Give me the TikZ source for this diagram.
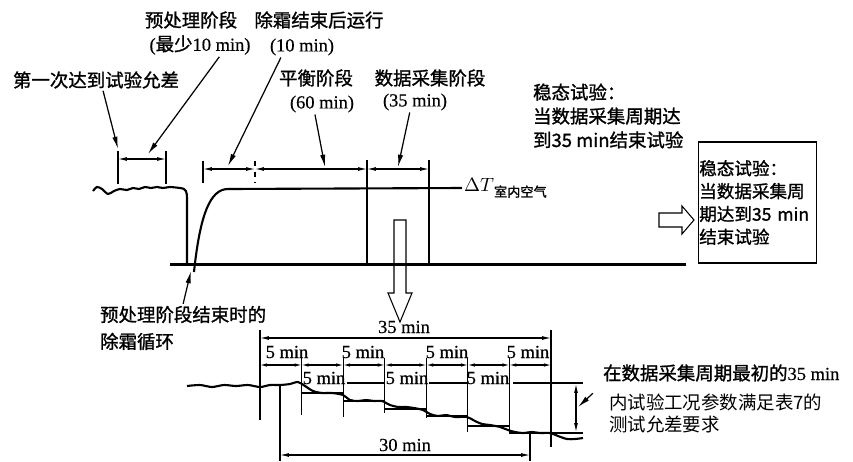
\documentclass[tikz,border=0pt]{standalone}
\usepackage{fontspec}
\setmainfont{Liberation Serif}[FakeBold=0.5]
\newfontfamily\cjk[FakeBold=1.2]{Noto Sans CJK SC}
\newfontfamily\cjklight{Noto Sans CJK SC}
\usepackage{tikz}
\usetikzlibrary{arrows.meta,calc}
\newcommand{\zh}[1]{{\cjk #1}}

\begin{document}
\begin{tikzpicture}[x=0.02cm, y=-0.02cm,
  every node/.style={font=\fontsize{10.5}{13.6}\selectfont, inner sep=1pt},
  lbl/.style={align=left},
  thinline/.style={line width=0.6pt},
  dim/.style={line width=0.6pt, {Latex[length=5pt,width=2.2pt]}-{Latex[length=5pt,width=2.2pt]}},
  ptr/.style={line width=0.7pt, -{Latex[length=7pt,width=3pt]}},
  curve/.style={line width=1.2pt, line join=round},
  baseln/.style={line width=1.7pt}
]
  \useasboundingbox (0,0) rectangle (853,461);

  % labels of the upper chart
  \node (first)   at (96,80)  {\zh{第一次达到试验允差}};
  \node (pre)     at (191,20) {\zh{预处理阶段}};
  \node (premin)  at (200,45) {(\zh{最少}10 min)};
  \node (defr)    at (319,20) {\zh{除霜结束后运行}};
  \node (defrmin) at (302,47) {(10 min)};
  \node (bal)     at (316,78) {\zh{平衡阶段}};
  \node (balmin)  at (322,104) {(60 min)};
  \node (dat)     at (430,78) {\zh{数据采集阶段}};
  \node (datmin)  at (415,102) {(35 min)};
  \node[lbl, anchor=west] (steady) at (531,116)
    {\zh{稳态试验：}\\\zh{当数据采集周期达}\\\zh{到35 min结束试验}};
  \node[draw, thinline, lbl, text width=2.33cm, minimum height=2.42cm, inner sep=0.6pt,
    font=\fontsize{10}{13}\selectfont] (box) at (757.5,202.5)
    {\zh{稳态试验：}\\\zh{当数据采集周}\\\mbox{\zh{期达到35 min}}\\\zh{结束试验}};
  \node[anchor=west] (dT) at (462,188) {$\Delta T$\raisebox{-3pt}{\fontsize{7.5}{8}\selectfont\zh{室内空气}}};

  % upper chart
  \draw[baseln] (170,264) -- (686,264);
  \draw[curve] plot[smooth] coordinates {(93,191) (97,187) (102,189) (108,194) (114,191) (120,189)
    (127,190) (133,188) (139,189) (145,187) (151,188) (157,187) (163,188) (170,187) (180,188)}
    .. controls (186,188) and (187,192) .. (187,198) -- (187,264);
  \draw[curve] (194,272) .. controls (200,215) and (210,189) .. (228,189) -- (dT.west);
  \draw[line width=0.9pt] (367,160) -- (367,264);
  \draw[line width=0.9pt] (429,160) -- (429,264);
  \draw[thinline] (394,220) -- (406,220) -- (406,293) -- (412,293) -- (400,322) -- (388,293) -- (394,293) -- cycle;
  \draw[thinline] (659,213) -- (682,213) -- (682,206) -- (694,220) -- (682,234) -- (682,227) -- (659,227) -- cycle;

  % dimension lines
  \draw[thinline] (118,151) -- (118,184);
  \draw[thinline] (166,151) -- (166,184);
  \draw[dim] (118,159) -- (166,159);
  \draw[thinline] (203,161) -- (203,183);
  \draw[thinline, dashed] (255,161) -- (255,183);
  \draw[dim] (203,169) -- (255,169);
  \draw[dim] (255,169) -- (367,169);
  \draw[dim] (367,169) -- (429,169);

  % pointers
  \coordinate (p1) at (118,149);
  \coordinate (p2) at (148,154);
  \coordinate (p3) at (228,166);
  \coordinate (p4) at (325,167);
  \coordinate (p5) at (398,167);
  \draw[ptr] ([xshift=4pt]first.south) -- (p1);
  \draw[ptr] ([xshift=11pt]premin.south) -- (p2);
  \draw[ptr] ([xshift=-12pt]defrmin.south) -- (p3);
  \draw[ptr] ([xshift=-4pt]balmin.south) -- (p4);
  \draw[ptr] ([xshift=-3pt]datmin.south) -- (p5);

  % lower chart
  \node[lbl, anchor=west, font=\fontsize{10.5}{15.3}\selectfont] (defcyc) at (98,328)
    {\zh{预处理阶段结束时的}\\\zh{除霜循环}};
  \coordinate (p6) at (191,271);
  \draw[ptr] (defcyc.north) -- (p6);

  \node (tot) at (404,327) {35 min};
  \draw[thinline] (260,330) -- (260,420);
  \draw[thinline] (551,330) -- (551,447);
  \draw[dim] (260,338) -- (551,338);

  \node (m1) at (287,352) {5 min};
  \node (m3) at (363,352) {5 min};
  \node (m5) at (447,352) {5 min};
  \node (m7) at (528,352) {5 min};
  \node (m2) at (324,378) {5 min};
  \node (m4) at (407,378) {5 min};
  \node (m6) at (488,378) {5 min};

  \draw[dim, {Latex[length=4pt,width=2pt]}-{Latex[length=4pt,width=2pt]}] (260,365) -- (301.6,365);
  \draw[dim, {Latex[length=4pt,width=2pt]}-{Latex[length=4pt,width=2pt]}] (301.6,365) -- (343.1,365);
  \draw[dim, {Latex[length=4pt,width=2pt]}-{Latex[length=4pt,width=2pt]}] (343.1,365) -- (384.7,365);
  \draw[dim, {Latex[length=4pt,width=2pt]}-{Latex[length=4pt,width=2pt]}] (384.7,365) -- (426.3,365);
  \draw[dim, {Latex[length=4pt,width=2pt]}-{Latex[length=4pt,width=2pt]}] (426.3,365) -- (467.9,365);
  \draw[dim, {Latex[length=4pt,width=2pt]}-{Latex[length=4pt,width=2pt]}] (467.9,365) -- (509.4,365);
  \draw[dim, {Latex[length=4pt,width=2pt]}-{Latex[length=4pt,width=2pt]}] (509.4,365) -- (551,365);

  \draw[thinline] (301.6,358) -- (301.6,415);
  \draw[thinline] (343.1,358) -- (343.1,417);
  \draw[thinline] (384.7,358) -- (384.7,413);
  \draw[thinline] (426.3,358) -- (426.3,418);
  \draw[thinline] (467.9,358) -- (467.9,432);
  \draw[thinline] (509.4,358) -- (509.4,432);

  % tolerance steps
  \draw[thinline] (301.6,393) -- (343.1,393);
  \draw[thinline] (343.1,401) -- (384.7,401);
  \draw[thinline] (384.7,409) -- (426.3,409);
  \draw[thinline] (426.3,416) -- (467.9,416);
  \draw[thinline] (467.9,426) -- (509.4,426);
  \draw[thinline] (509.4,433) -- (583,433);
  \draw[thinline] (347,383) -- (384.7,383);
  \draw[thinline] (429,383) -- (467.9,383);
  \draw[thinline] (513,383) -- (583,383);

  \draw[curve] plot[smooth] coordinates {(187,386) (200,385) (212,387) (224,385) (236,386) (248,385)
    (260,387) (270,385) (280,385) (290,384) (298,382) (305,386) (313,391) (322,393) (332,393)
    (343,395) (350,400) (358,401) (366,400) (374,401) (382,401) (390,405) (398,407) (406,407)
    (414,408) (423,410) (430,414) (438,416) (446,415) (455,417) (467,417) (475,421) (482,424)
    (490,425) (500,427) (508,430) (515,432) (523,433) (532,432) (540,433) (550,433) (558,436)
    (567,439) (575,439) (583,438)};

  \draw[dim] (576,384) -- (576,432);

  \node (thirty) at (405,445) {30 min};
  \draw[thinline] (280,386) -- (280,461);
  \draw[thinline] (530,432) -- (530,461);
  \draw[dim] (280,455) -- (530,455);

  \node[anchor=west] (req1) at (601,373) {\zh{在数据采集周期最初的}35 min};
  \node[anchor=west] (req2) at (607,402) {{\cjklight 内试验工况参数满足表7的}};
  \node[anchor=west] (req3) at (607,424) {{\cjklight 测试允差要求}};
  \coordinate (p7) at (578,407);
  \draw[ptr] ([shift={(-8pt,5pt)}]req2.west) -- (p7);
\end{tikzpicture}
\end{document}
